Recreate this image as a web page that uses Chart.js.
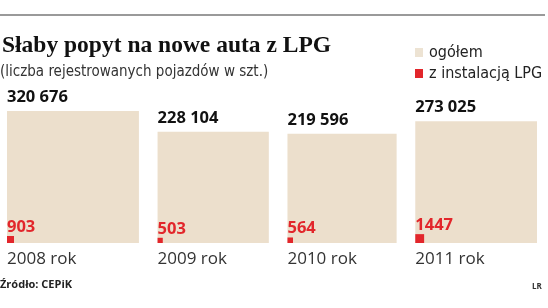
<!DOCTYPE html>
<html>
<head>
<meta charset="utf-8">
<script src="https://cdn.jsdelivr.net/npm/chart.js@4"></script>
<style>
  body { margin: 0; background: #fff; }
  #wrap { position: relative; width: 548px; height: 308px; overflow: hidden; }
  #chart { position: absolute; left: 0; top: 0; }
  .rule { position: absolute; left: 0; top: 14px; width: 545px; height: 2px; background: #9a9a9a; }
  .title { position: absolute; left: 2px; top: 31px; font: bold 23.5px "Liberation Serif", serif; color: #111; white-space: nowrap; }
  .sub { position: absolute; left: 0; top: 62px; font: 15px "Liberation Sans Narrow", "DejaVu Sans Condensed", sans-serif; color: #333; white-space: nowrap; }
  .legend { position: absolute; left: 415px; font: 16px "Liberation Sans Narrow", "DejaVu Sans Condensed", sans-serif; color: #222; white-space: nowrap; }
  .legend span { display: inline-block; width: 8px; height: 9px; margin-right: 6px; }
  .src { position: absolute; left: 0; top: 276px; font: bold 11px "Open Sans", sans-serif; color: #222; }
  .lr { position: absolute; left: 532px; top: 280px; font: bold 8px "Open Sans", sans-serif; color: #333; }
</style>
</head>
<body>
<div id="wrap">
  <canvas id="chart" width="548" height="308"></canvas>
  <div class="rule"></div>
  <div class="title">Słaby popyt na nowe auta z LPG</div>
  <div class="sub">(liczba rejestrowanych pojazdów w szt.)</div>
  <div class="legend" style="top:42px"><span style="background:#ede3d3"></span>ogółem</div>
  <div class="legend" style="top:63px"><span style="background:#e2262b"></span>z instalacją LPG</div>
  <div class="src">Źródło: CEPiK</div>
  <div class="lr">LR</div>
</div>
<script>
// data
const years = ['2008 rok', '2009 rok', '2010 rok', '2011 rok'];
const totalValues = [320676, 228104, 219596, 273025];
const lpgValues = [903, 503, 564, 1447];

const beige = '#ecdfcc';
const red = '#e2262b';

// squares: area ~ value, so side = sqrt(value)
const totalSides = totalValues.map(v => Math.sqrt(v));
const lpgSides = lpgValues.map(v => Math.sqrt(v));
const gap = 80; // gap between squares, in side units

let lefts = [];
let pos = 0;
for (let i = 0; i < totalSides.length; i++) {
    lefts.push(pos);
    pos += totalSides[i] + gap;
}
const xMax = pos - gap;

// chart area in pixels (left 7, right 537, top 100, bottom 243)
const pad = { left: 7, right: 11, top: 100, bottom: 65 };
const areaW = 548 - pad.left - pad.right;
const areaH = 308 - pad.top - pad.bottom;
const yMax = xMax * areaH / areaW; // same px per unit on both axes

function fmt(n) {
    let s = String(n);
    if (n < 10000) return s;
    return s.replace(/\B(?=(\d{3})+(?!\d))/g, ' ');
}

// give each bar its own width, taken from the x scale
const squareBars = {
    id: 'squareBars',
    afterDatasetsUpdate(chart) {
        const xs = chart.scales.x;
        chart.data.datasets.forEach((ds, d) => {
            const sides = ds.sides;
            chart.getDatasetMeta(d).data.forEach((el, i) => {
                const l = xs.getPixelForValue(lefts[i]);
                const r = xs.getPixelForValue(lefts[i] + sides[i]);
                el.x = (l + r) / 2;
                el.width = r - l;
            });
        });
    },
    afterDatasetsDraw(chart) {
        const ctx = chart.ctx;
        const tot = chart.getDatasetMeta(1).data;
        const lpg = chart.getDatasetMeta(0).data;
        ctx.save();
        ctx.textAlign = 'left';
        ctx.textBaseline = 'alphabetic';
        for (let i = 0; i < tot.length; i++) {
            const left = tot[i].x - tot[i].width / 2;
            ctx.font = 'bold 16.5px "Open Sans"';
            ctx.fillStyle = '#111';
            ctx.fillText(fmt(totalValues[i]), left, tot[i].y - 9);
            ctx.fillStyle = red;
            ctx.fillText(fmt(lpgValues[i]), left, lpg[i].y - 4);
            ctx.font = '17px "Open Sans"';
            ctx.fillStyle = '#333';
            ctx.fillText(years[i], left, tot[i].base + 21);
        }
        ctx.restore();
    }
};

new Chart(document.getElementById('chart'), {
    type: 'bar',
    data: {
        datasets: [{
            label: 'z instalacją LPG',
            data: lpgSides.map((s, i) => ({ x: lefts[i] + s / 2, y: s })),
            sides: lpgSides,
            backgroundColor: red,
            grouped: false,
            order: 0
        }, {
            label: 'ogółem',
            data: totalSides.map((s, i) => ({ x: lefts[i] + s / 2, y: s })),
            sides: totalSides,
            backgroundColor: beige,
            grouped: false,
            order: 1
        }]
    },
    options: {
        responsive: false,
        animation: false,
        layout: { padding: pad },
        scales: {
            x: { type: 'linear', min: 0, max: xMax, offset: false, display: false },
            y: { min: 0, max: yMax, display: false }
        },
        plugins: {
            legend: { display: false },
            tooltip: { enabled: false }
        }
    },
    plugins: [squareBars]
});
</script>
</body>
</html>
